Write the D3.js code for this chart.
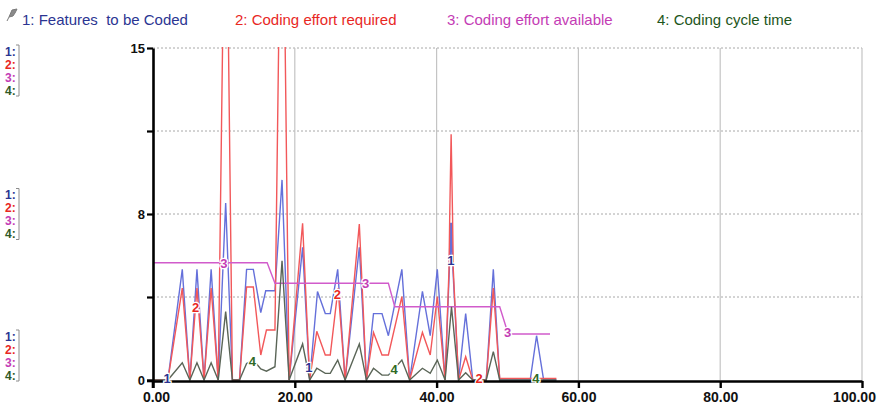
<!DOCTYPE html>
<html><head><meta charset="utf-8">
<script src="https://cdn.jsdelivr.net/npm/d3@7/dist/d3.min.js"></script>
<style>
html,body{margin:0;padding:0;background:#fff;}
svg{display:block;}
text.legend{white-space:pre;}
</style></head><body>
<svg id="chart" width="877" height="412"></svg>
<script>
// ---- data: each series is a list of [time, value] vertices ----
const seriesNames = ["1: Features  to be Coded", "2: Coding effort required", "3: Coding effort available", "4: Coding cycle time"];

const featuresToBeCoded = [[0,0],[2.1,0],[4.13,5],[5.2,0],[6.2,5],[7.2,0],[8.2,5],[9.2,0],[10.25,8],[11.2,0],[12.2,0],[13.2,5],[14.15,5],[15.2,3.04],[15.9,4.03],[17.2,4.03],[18.2,9.04],[19.2,0],[21.1,6],[22.1,0],[23.2,4],[24.3,3],[25,3],[26.05,5],[27.1,0],[29.1,6],[30.1,0],[31.1,3],[32.3,3],[33.2,2],[35.1,5],[36.2,0],[38,4],[39.1,2],[40.1,5],[41.2,0],[41.8,5],[41.9,7.1],[42,5.4],[42.1,7.1],[42.3,5],[43.1,0],[44.1,3],[45.1,0],[47,0],[48,5],[48.9,0],[53.2,0],[54.1,2],[55.1,0],[56.9,0]];

const codingEffortRequired = [[0,0],[2.1,0],[4.13,4.15],[5.2,0],[6.2,4.15],[7.2,0],[8.2,4.15],[9.2,0],[10.25,26],[11.2,0],[12.2,0],[13.2,4.2],[14.15,4.2],[15.2,1.13],[16,2.26],[17.2,2.26],[18.2,27],[19.2,0],[21.1,7.08],[22.1,0],[23.1,2.2],[24.3,1.13],[25,1.13],[26.1,4.14],[27.1,0],[29.1,7.05],[30.1,0],[31.1,2.15],[32.3,1.13],[33.2,1.13],[35.1,3.77],[36.2,0],[38,2.15],[39.1,1.13],[40.1,3.77],[41.2,0],[41.75,5],[41.85,7.4],[42.05,11.1],[42.25,7.4],[42.35,5],[43.1,0],[44.1,1.05],[45.1,0],[47,0],[48,4.15],[48.9,0.07],[56.9,0.07]];

const codingEffortAvailable = [[0,5.3],[16.1,5.3],[17.2,4.37],[33.2,4.37],[34.1,3.31],[48.9,3.31],[50.1,2.08],[56,2.08]];

const codingCycleTime = [[0,0],[2.1,0],[4.13,0.78],[5.2,0],[6.2,0.78],[7.2,0],[8.2,0.78],[9.2,0],[10.25,3.09],[11.2,0],[12.2,0],[13.2,0.75],[14.15,0.9],[15.2,0.5],[16,0.4],[17.2,0.6],[18.2,5.39],[19.2,0],[21.1,1.63],[22.1,0],[23.1,0.53],[24.3,0.3],[25,0.3],[26.05,0.9],[27.1,0],[29.1,1.63],[30.1,0],[31.1,0.53],[32.3,0.22],[33.2,0.22],[35.1,0.9],[36.2,0],[38,0.53],[39.1,0.3],[40.1,0.9],[41.2,0],[42.1,3.31],[43.1,0],[44.1,0.33],[45.1,0],[47,0],[48,1.28],[48.9,0],[56.9,0]];

const xTickValues = [0, 20, 40, 60, 80, 100];
const yTickValues = [0, 3.75, 7.5, 11.25, 15];
const yTickLabels = ["0", "", "8", "", "15"];
const seriesLabelTimes = [[2, 22, 42], [6, 26, 46], [10, 30, 50], [14, 34, 54]];

// ---- styling ----
const lineColors = ["#6570da", "#f2585a", "#d15bcb", "#5a6557"];
const textColors = ["#2b3592", "#e8281f", "#c43cb5", "#1e561b"];
const narrowFont = "'Liberation Sans Narrow','Arial Narrow','Liberation Sans',Arial,sans-serif";
const plainFont = "'Liberation Sans',Arial,sans-serif";

const allSeries = [featuresToBeCoded, codingEffortRequired, codingEffortAvailable, codingCycleTime];

const svg = d3.select("#chart");
const plotLeft = 153, plotRight = 862, plotTop = 48, plotBottom = 380;

const x = d3.scaleLinear().domain([0, 100]).range([plotLeft, plotRight]);
const y = d3.scaleLinear().domain([0, 15]).range([plotBottom, plotTop]);

// ---- legend across the top ----
svg.append("path")
  .attr("d", "M9,17 L12,10 L17,9 L15,13 L13,16 Z M9,17 L7,21")
  .attr("fill", "#8a8a8a").attr("stroke", "#7a7a7a").attr("stroke-width", 1);

const legendX = [22, 235, 447, 657];
svg.selectAll("text.legend").data(seriesNames).join("text")
  .attr("class", "legend")
  .attr("x", (d, i) => legendX[i]).attr("y", 25)
  .attr("font-family", narrowFont).attr("font-size", 15)
  .attr("fill", (d, i) => textColors[i])
  .text(d => d);

// ---- left scale keys (1: 2: 3: 4:) ----
const keyGroupsTop = [y(15) + 3, y(7.5) - 19.5, y(0) - 44];
keyGroupsTop.forEach(g0 => {
  const grp = svg.append("g");
  [0, 1, 2, 3].forEach(i => {
    grp.append("text")
      .attr("x", 5).attr("y", g0 + i * 13 + 4.5)
      .attr("font-family", plainFont).attr("font-weight", "bold").attr("font-size", 12)
      .attr("fill", i === 3 ? "#2f5a26" : textColors[i])
      .text((i + 1) + ":");
  });
  grp.append("path")
    .attr("d", `M16,${g0 - 6} H19 V${g0 + 45} H16`)
    .attr("fill", "none").attr("stroke", "#8c8c8c").attr("stroke-width", 1);
});

// ---- grid ----
const grid = svg.append("g");
grid.selectAll("line.h").data(yTickValues.filter(v => v > 0)).join("line")
  .attr("class", "h")
  .attr("x1", plotLeft).attr("x2", plotRight)
  .attr("y1", d => y(d)).attr("y2", d => y(d))
  .attr("stroke", "#a8a8a8").attr("stroke-width", 1).attr("stroke-dasharray", "2,2");
grid.selectAll("line.v").data(xTickValues.filter(v => v > 0)).join("line")
  .attr("class", "v")
  .attr("x1", d => x(d)).attr("x2", d => x(d))
  .attr("y1", plotTop).attr("y2", plotBottom)
  .attr("stroke", "#c4c4c4").attr("stroke-width", 1.2);

// ---- series lines ----
svg.append("clipPath").attr("id", "plotClip")
  .append("rect").attr("x", plotLeft).attr("y", plotTop - 1)
  .attr("width", plotRight - plotLeft).attr("height", plotBottom - plotTop + 2);

const line = d3.line().x(d => x(d[0])).y(d => y(d[1]));
const plot = svg.append("g").attr("clip-path", "url(#plotClip)");
allSeries.forEach((s, i) => {
  plot.append("path").datum(s)
    .attr("d", line)
    .attr("fill", "none")
    .attr("stroke", lineColors[i])
    .attr("stroke-width", 1.4)
    .attr("stroke-linejoin", "miter");
});

// ---- axes ----
const xAxis = d3.axisBottom(x).tickValues(xTickValues).tickFormat(d3.format(".2f"))
  .tickSizeInner(7).tickSizeOuter(0).tickPadding(4);
const gx = svg.append("g").attr("transform", `translate(0,${plotBottom + 1})`).call(xAxis);
gx.select(".domain").attr("stroke", "#000").attr("stroke-width", 2.6);
gx.selectAll(".tick line").attr("stroke", "#000").attr("stroke-width", 2.4);
gx.selectAll(".tick text").attr("font-family", plainFont).attr("font-weight", "bold")
  .attr("font-size", 14).attr("fill", "#111")
  .attr("dx", d => d === 0 ? 3 : (d === 100 ? -8 : 0));

const yAxis = d3.axisLeft(y).tickValues(yTickValues)
  .tickFormat((d, i) => yTickLabels[i]).tickSizeInner(6).tickSizeOuter(0).tickPadding(2);
const gy = svg.append("g").attr("transform", `translate(${plotLeft},0)`).call(yAxis);
gy.select(".domain").attr("stroke", "#000").attr("stroke-width", 2.6);
gy.selectAll(".tick line").attr("stroke", "#000").attr("stroke-width", 2.2);
gy.selectAll(".tick text").attr("font-family", plainFont).attr("font-weight", "bold")
  .attr("font-size", 13).attr("fill", "#111");

// axis cross below the origin
svg.append("line").attr("x1", plotLeft).attr("x2", plotLeft).attr("y1", plotBottom).attr("y2", plotBottom + 8)
  .attr("stroke", "#000").attr("stroke-width", 2.6);
svg.append("line").attr("x1", plotLeft - 6).attr("x2", plotLeft).attr("y1", plotBottom + 1).attr("y2", plotBottom + 1)
  .attr("stroke", "#000").attr("stroke-width", 2.6);

// ---- series number labels placed on each line ----
function valueAt(s, t) {
  for (let k = 1; k < s.length; k++) {
    if (t <= s[k][0]) {
      const [t0, v0] = s[k - 1], [t1, v1] = s[k];
      return v0 + (v1 - v0) * (t - t0) / (t1 - t0);
    }
  }
  return s[s.length - 1][1];
}
seriesLabelTimes.forEach((times, i) => {
  times.forEach(t => {
    const v = Math.min(valueAt(allSeries[i], t), 15);
    svg.append("text")
      .attr("x", x(t)).attr("y", Math.min(y(v), plotBottom - 2) + 5)
      .attr("text-anchor", "middle")
      .attr("font-family", plainFont).attr("font-weight", "bold").attr("font-size", 13)
      .attr("fill", i === 3 ? "#2f6a25" : textColors[i])
      .attr("stroke", "#fff").attr("stroke-width", 2.5).attr("paint-order", "stroke")
      .text(i + 1);
  });
});
</script>
</body></html>
